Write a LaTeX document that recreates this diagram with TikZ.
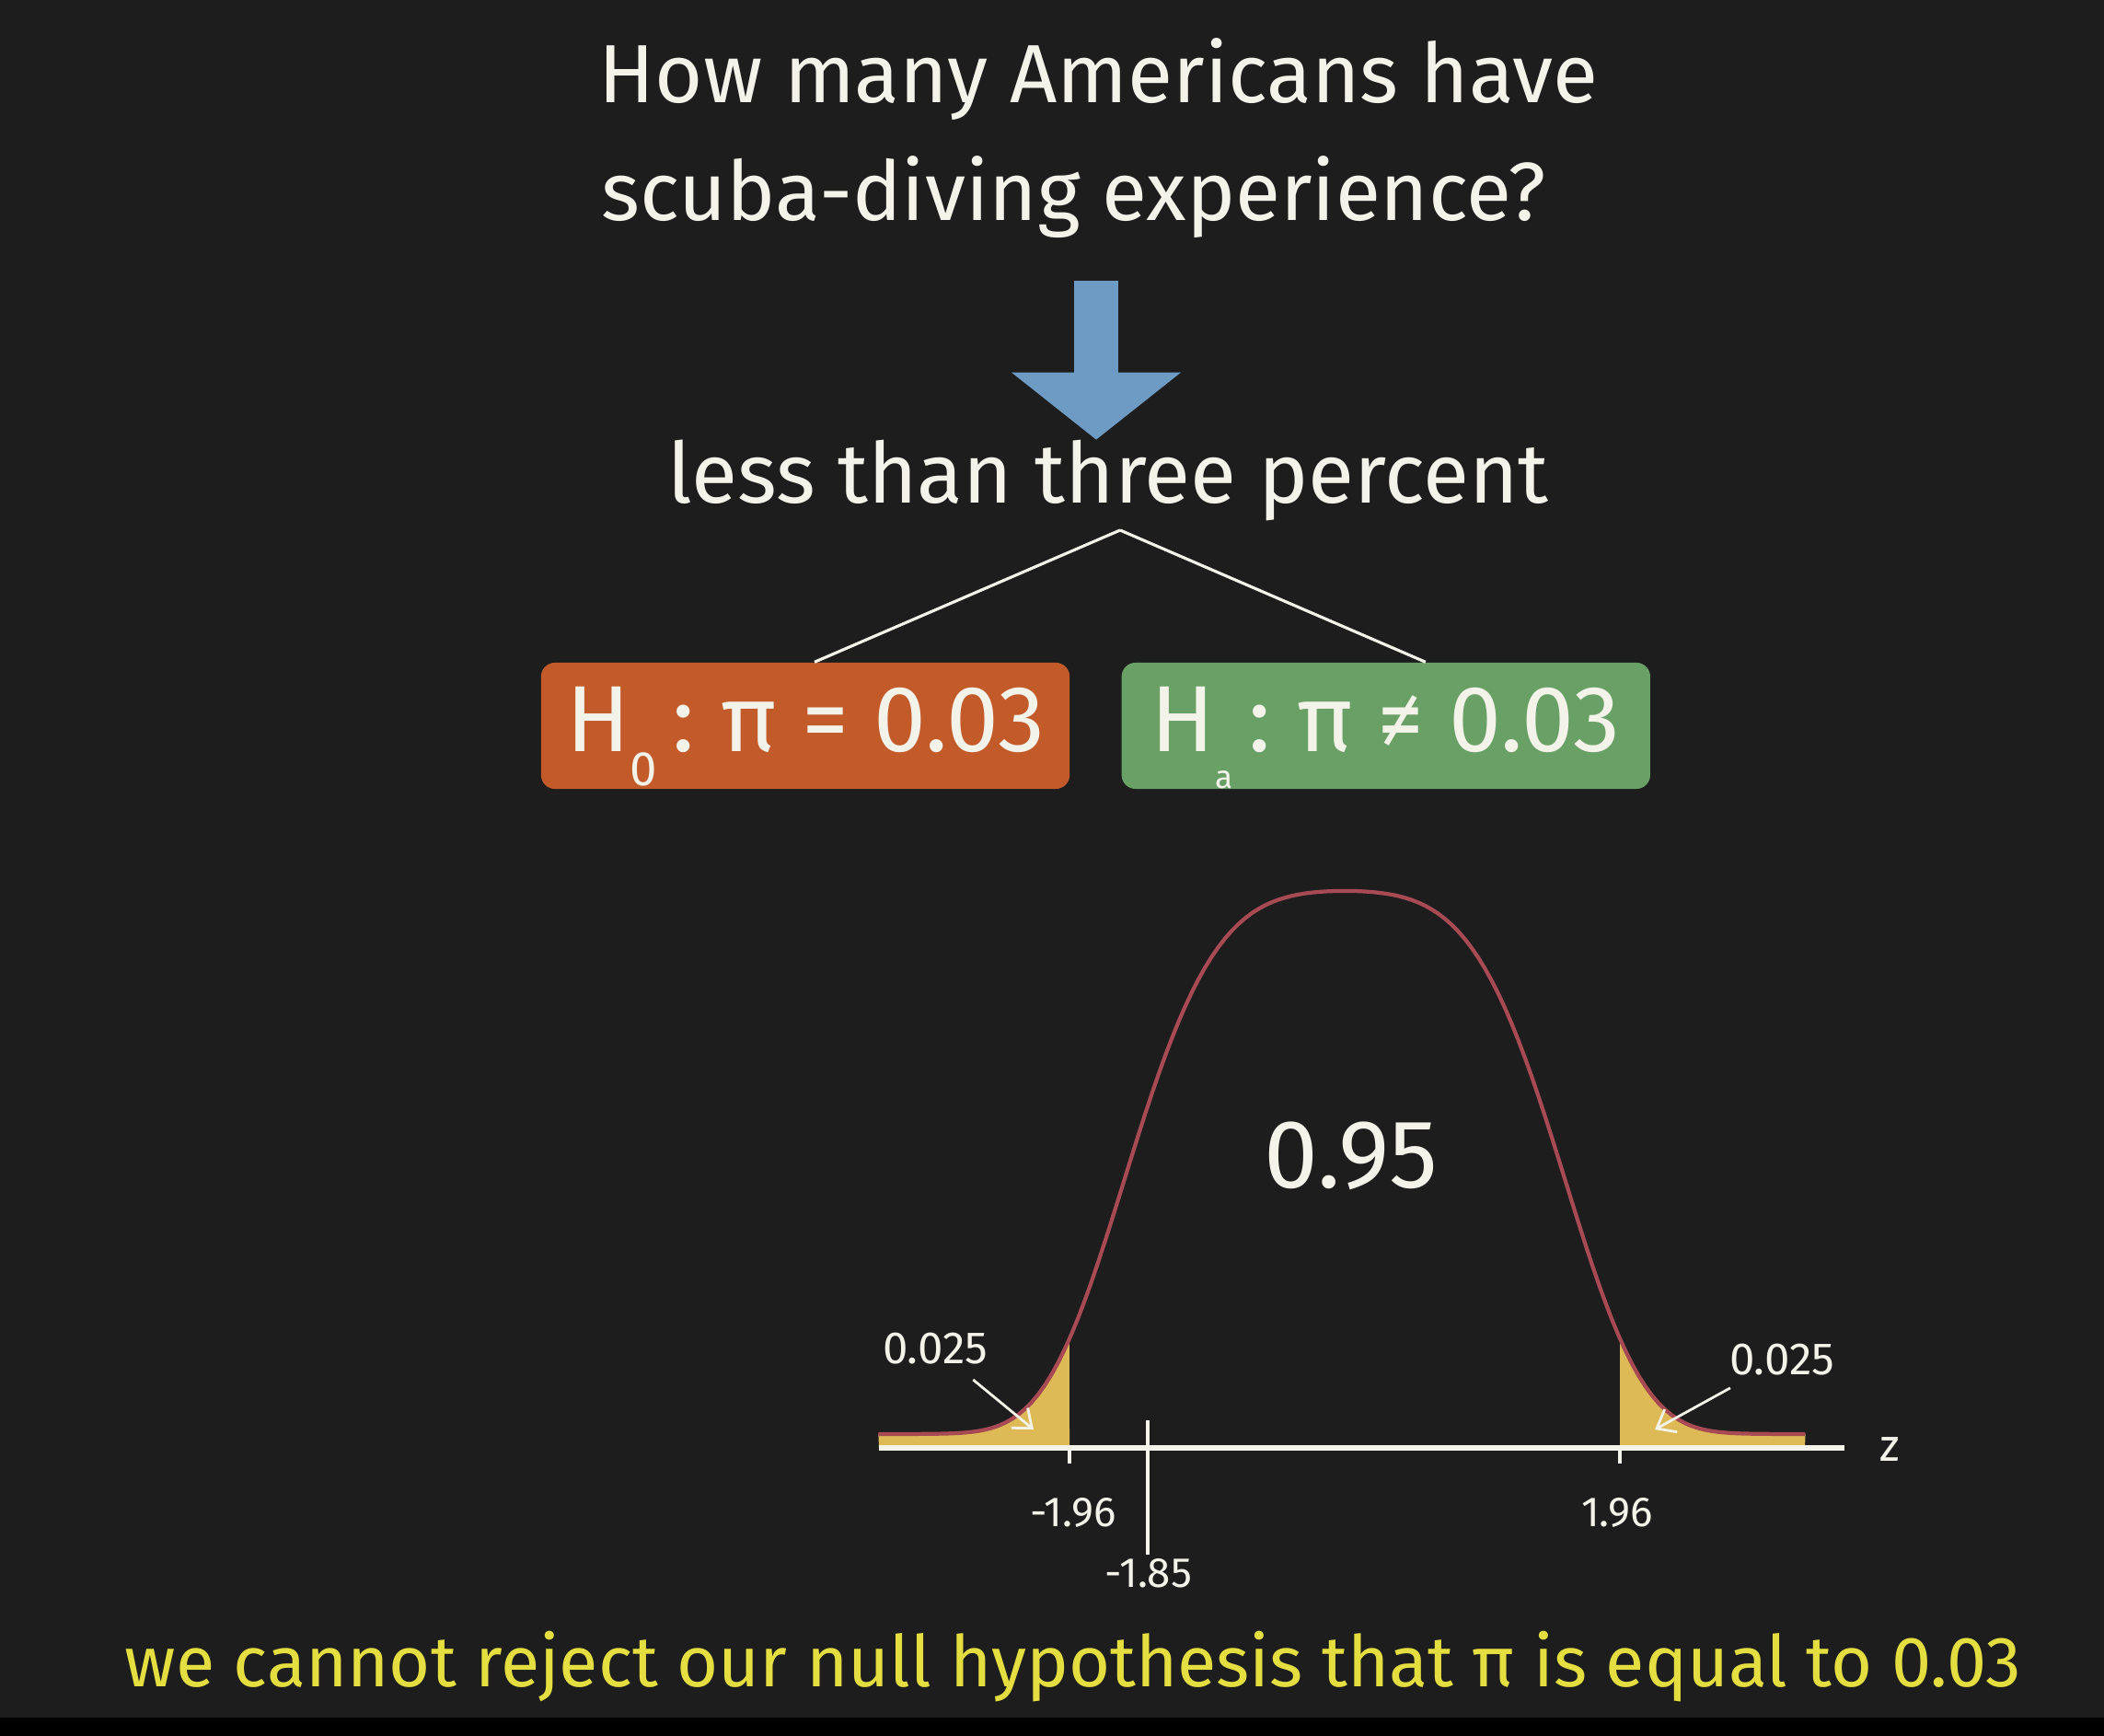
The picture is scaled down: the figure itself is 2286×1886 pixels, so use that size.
\documentclass[tikz,border=0pt]{standalone}
\usepackage{fontspec}
\setmainfont{Fira Sans}
\usetikzlibrary{arrows.meta,positioning}
\definecolor{board}{RGB}{29,29,29}
\definecolor{chalk}{RGB}{244,243,234}
\definecolor{arrowblue}{RGB}{110,155,195}
\definecolor{nullorange}{RGB}{194,90,42}
\definecolor{altgreen}{RGB}{104,160,102}
\definecolor{curvered}{RGB}{168,74,84}
\definecolor{tailgold}{RGB}{222,186,86}
\definecolor{noteyellow}{RGB}{228,222,64}
\tikzset{
qtext/.style={text=chalk,inner sep=0pt,font=\fontsize{25.5}{30}\selectfont},
hypbox/.style={rectangle,rounded corners=0.15cm,text=chalk,minimum width=5.74cm,
  minimum height=1.37cm,text height=0.8cm,text depth=0.25cm,align=center,
  font=\fontsize{29}{34}\selectfont},
bigarr/.style={draw=arrowblue,line width=0.48cm,-{Triangle[width=1.8cm,length=0.73cm]}},
forkline/.style={draw=chalk,line width=0.9pt},
ztext/.style={text=chalk,inner sep=1pt,font=\fontsize{13}{15}\selectfont},
ptext/.style={text=chalk,inner sep=1pt,font=\fontsize{14}{16}\selectfont},
smallarr/.style={draw=chalk,line width=0.8pt,-{Straight Barb[length=5pt,width=8pt]},shorten <=0.2cm},
axisline/.style={draw=chalk,line width=1.8pt},
tickline/.style={draw=chalk,line width=0.9pt},
curveline/.style={draw=curvered,line width=1.2pt},
notetext/.style={text=noteyellow,inner sep=0pt,font=\fontsize{22}{26}\selectfont}
}
\begin{document}
\begin{tikzpicture}[x=0.01cm,y=-0.01cm,
  declare function={bell(\u)=0.975*exp(0-(0.05*\u*\u+0.105*\u*\u*\u*\u))+0.025;}]
\useasboundingbox (0,0) rectangle (2286,1886);
\fill[board] (0,0) rectangle (2286,1886);
\fill[black] (0,1866) rectangle (2286,1886);

\node[qtext,anchor=base west] (qtop) at (650,112) {How many Americans have};
\node[qtext,anchor=base west] (qbot) at (653,240) {scuba-diving experience?};
\node[qtext,font=\fontsize{26}{30}\selectfont,anchor=base] (claim) at (1204,547) {less than three percent};
\coordinate (arrtop) at (1191,305);
\draw[bigarr] (arrtop) -- (arrtop |- claim.north);

\node[hypbox,fill=nullorange] (nullh) at (875,788.5)
  {H\raisebox{-0.37cm}{\fontsize{15}{15}\selectfont 0}\,:\;π = 0.03};
\node[hypbox,fill=altgreen,right=0.55cm of nullh] (alth)
  {H\raisebox{-0.4cm}{\fontsize{10}{10}\selectfont a}\,:\;π ≠ 0.03};
\coordinate (fork) at (1217,576);
\draw[forkline] (fork) -- ([xshift=0.1cm]nullh.north);
\draw[forkline] (fork) -- ([xshift=0.43cm]alth.north);

\fill[tailgold] (955,1573) -- plot[domain=-3.32:-1.96,samples=40]
  ({1461+152.6*\x},{1573-605*bell(\x)}) -- (1162,1573) -- cycle;
\fill[tailgold] (1760,1573) -- plot[domain=1.96:3.28,samples=40]
  ({1461+152.6*\x},{1573-605*bell(\x)}) -- (1961,1573) -- cycle;
\draw[curveline] plot[domain=-3.32:3.28,samples=140]
  ({1461+152.6*\x},{1573-605*bell(\x)});
\coordinate (zstart) at (955,1573);
\coordinate (zend) at (2004,1573);
\draw[axisline] (zstart) -- (zend);
\node[ptext] (zlab) at (2053,1575) {z};
\draw[tickline] (1162,1573) -- (1162,1590);
\draw[tickline] (1760,1573) -- (1760,1590);

\node[qtext,font=\fontsize{30}{34}\selectfont,anchor=base] (mid) at (1468,1290) {0.95};
\node[ptext] (lq) at (1016,1465) {0.025};
\node[ptext] (rq) at (1936,1477) {0.025};
\coordinate (ltip) at (1123,1553);
\coordinate (rtip) at (1798,1553);
\draw[smallarr] (lq) -- (ltip);
\draw[smallarr] (rq) -- (rtip);

\node[ztext] (lcrit) at (1166,1643) {-1.96};
\node[ztext] (rcrit) at (1757,1643) {1.96};
\node[ztext] (obs) at (1248,1709) {-1.85};
\coordinate (obstop) at (1247,1543);
\draw[tickline] (obstop) -- (obstop |- obs.north);

\node[notetext,anchor=base] (verdict) at (1166,1832)
  {we cannot reject our null hypothesis that π is equal to 0.03};
\end{tikzpicture}
\end{document}
